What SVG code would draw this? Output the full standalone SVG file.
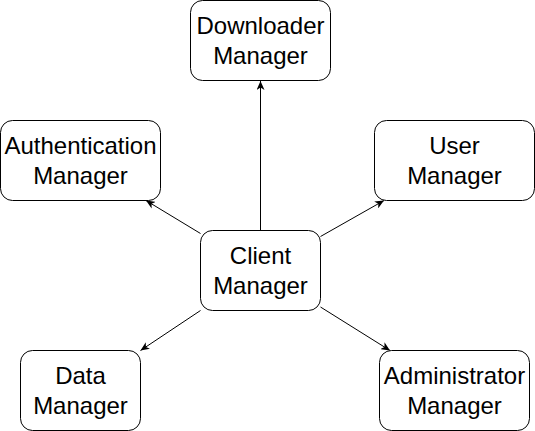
<svg xmlns="http://www.w3.org/2000/svg" width="535" height="431" viewBox="0 0 535 431">
<defs>
<marker id="arr" markerWidth="10" markerHeight="8" refX="9" refY="4" orient="auto" markerUnits="userSpaceOnUse">
<path d="M0,0 L9,4 L0,8 L2.5,4 Z" fill="#000"/>
</marker>
<style>
.box{fill:#fff;stroke:#000;stroke-width:1}
.lbl{font-family:"Liberation Sans",Arial,sans-serif;font-size:24px;fill:#000;text-anchor:middle}
.edge{stroke:#000;stroke-width:1;fill:none;marker-end:url(#arr)}
</style>
</defs>
<rect width="535" height="431" fill="#fff"/>
<g id="edges">
<line class="edge" x1="260.5" y1="230.5" x2="260.5" y2="81"/>
<line class="edge" x1="200.5" y1="233.5" x2="146" y2="200.5"/>
<line class="edge" x1="320.5" y1="236.5" x2="384" y2="200.5"/>
<line class="edge" x1="200.5" y1="310.5" x2="140.5" y2="350.5"/>
<line class="edge" x1="320.5" y1="307" x2="390" y2="350.5"/>
</g>
<g id="downloader">
<rect class="box" x="190.5" y="0.5" width="140" height="80" rx="12"/>
<text class="lbl" x="260.5" y="33.5">Downloader</text>
<text class="lbl" x="260.5" y="63.5">Manager</text>
</g>
<g id="authentication">
<rect class="box" x="0.5" y="120.5" width="160" height="80" rx="12"/>
<text class="lbl" x="80.5" y="153.5">Authentication</text>
<text class="lbl" x="80.5" y="183.5">Manager</text>
</g>
<g id="user">
<rect class="box" x="374.5" y="120.5" width="160" height="80" rx="12"/>
<text class="lbl" x="454.5" y="153.5">User</text>
<text class="lbl" x="454.5" y="183.5">Manager</text>
</g>
<g id="client">
<rect class="box" x="200.5" y="230.5" width="120" height="80" rx="12"/>
<text class="lbl" x="260.5" y="263.5">Client</text>
<text class="lbl" x="260.5" y="293.5">Manager</text>
</g>
<g id="data">
<rect class="box" x="20.5" y="350.5" width="120" height="80" rx="12"/>
<text class="lbl" x="80.5" y="383.5">Data</text>
<text class="lbl" x="80.5" y="413.5">Manager</text>
</g>
<g id="administrator">
<rect class="box" x="379.5" y="350.5" width="150" height="80" rx="12"/>
<text class="lbl" x="454.5" y="383.5">Administrator</text>
<text class="lbl" x="454.5" y="413.5">Manager</text>
</g>
</svg>
